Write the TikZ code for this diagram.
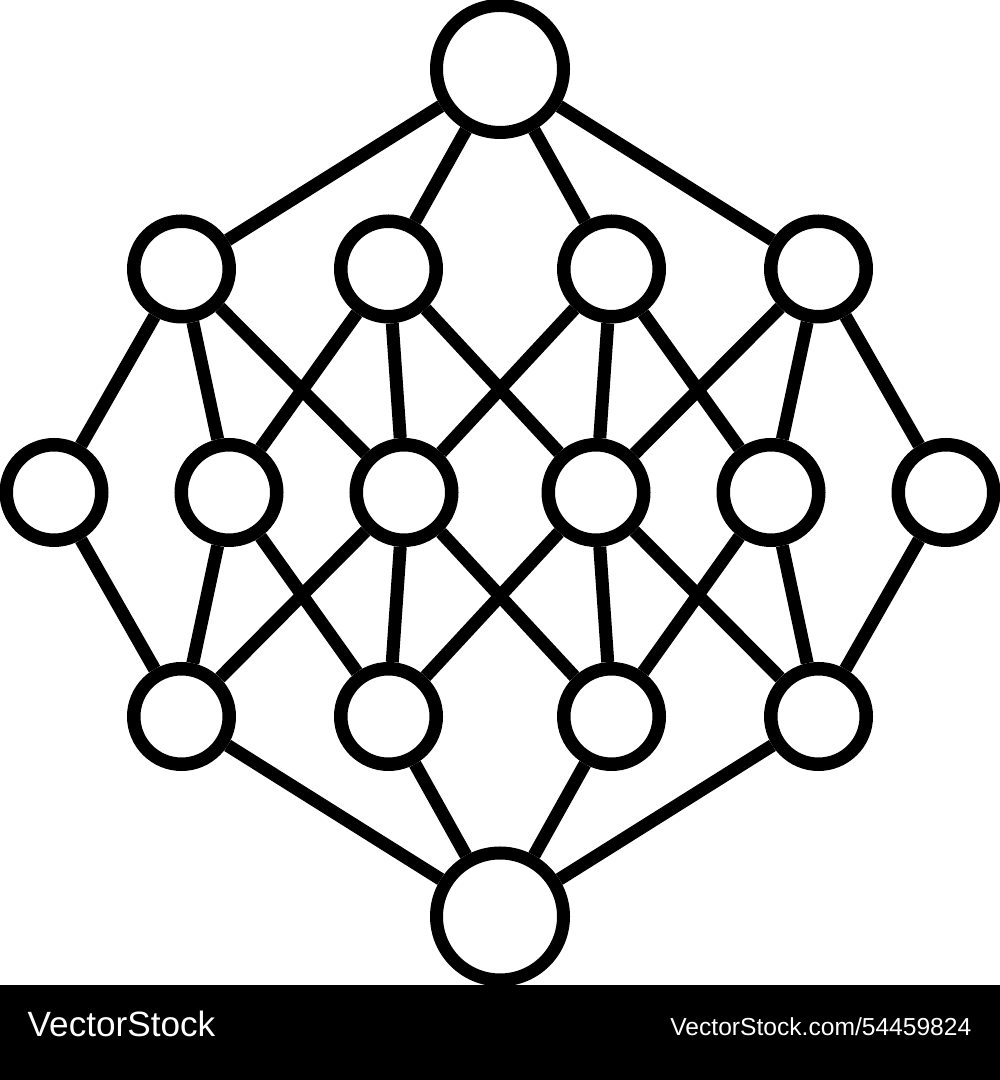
\documentclass[tikz,border=0pt]{standalone}
\usepackage{fontspec}
\setmainfont{Liberation Sans}
\usepackage{tikz}
\usetikzlibrary{calc,positioning,shapes.geometric}

\begin{document}
\begin{tikzpicture}[scale=1,
        bignode/.style={circle,draw,line width=0.13cm,minimum size=1.27cm,inner sep=0pt},
        smallnode/.style={circle,draw,line width=0.135cm,minimum size=0.955cm,inner sep=0pt},
        link/.style={line width=0.13cm}]
        \useasboundingbox (0,0) rectangle (10,10.8);

        % top and bottom
        \node[bignode] (top) at (5,10.11) {};
        \node[bignode] (bot) at (5,1.635) {};

        % upper row
        \node[smallnode] (a) at (1.815,8.11) {};
        \node[smallnode] (b) at (3.885,8.11) {};
        \node[smallnode] (c) at (6.115,8.11) {};
        \node[smallnode] (d) at (8.185,8.11) {};

        % middle row
        \node[smallnode] (m0) at (0.54,5.875) {};
        \node[smallnode] (m1) at (2.29,5.875) {};
        \node[smallnode] (m2) at (4.04,5.875) {};
        \node[smallnode] (m3) at (5.96,5.875) {};
        \node[smallnode] (m4) at (7.71,5.875) {};
        \node[smallnode] (m5) at (9.46,5.875) {};

        % lower row
        \node[smallnode] (e) at (1.815,3.635) {};
        \node[smallnode] (f) at (3.885,3.635) {};
        \node[smallnode] (g) at (6.115,3.635) {};
        \node[smallnode] (h) at (8.185,3.635) {};

        \draw[link] (top) -- (a)  (top) -- (b)  (top) -- (c)  (top) -- (d);
        \draw[link] (a) -- (m0)  (a) -- (m1)  (a) -- (m2)  (b) -- (m1)  (b) -- (m2)  (b) -- (m3);
        \draw[link] (c) -- (m2)  (c) -- (m3)  (c) -- (m4)  (d) -- (m3)  (d) -- (m4)  (d) -- (m5);
        \draw[link] (m0) -- (e)  (m1) -- (e)  (m1) -- (f)  (m2) -- (e)  (m2) -- (f)  (m2) -- (g);
        \draw[link] (m3) -- (f)  (m3) -- (g)  (m3) -- (h)  (m4) -- (g)  (m4) -- (h)  (m5) -- (h);
        \draw[link] (bot) -- (e)  (bot) -- (f)  (bot) -- (g)  (bot) -- (h);

        % footer
        \fill (0,0) rectangle (10,0.95);
        \node[anchor=base west,inner sep=0pt,text=white,font=\fontsize{10}{12}\selectfont] (brand) at (0.27,0.43) {VectorStock};
        \node[anchor=base east,inner sep=0pt,text=white,font=\fontsize{7}{9}\selectfont] (imgid) at (9.72,0.44) {VectorStock.com/54459824};
    \end{tikzpicture}
\end{document}
